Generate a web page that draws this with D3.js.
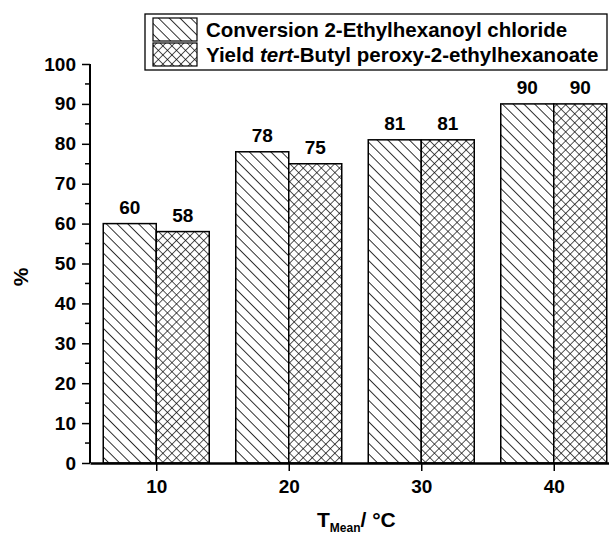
<!DOCTYPE html>
<html>
<head>
<meta charset="utf-8">
<script src="https://cdn.jsdelivr.net/npm/d3@7"></script>
<style>
  body { margin: 0; background: #fff; }
  svg { font-family: "Liberation Sans", Arial, sans-serif; font-weight: bold; }
</style>
</head>
<body>
<div id="chart"></div>
<script>
const temps = [10, 20, 30, 40];
const conversion = [60, 78, 81, 90];
const yieldVals = [58, 75, 81, 90];
const seriesNames = ["Conversion 2-Ethylhexanoyl chloride", "Yield tert-Butyl peroxy-2-ethylhexanoate"];
const yTicks = [0, 10, 20, 30, 40, 50, 60, 70, 80, 90, 100];

let width = 609, height = 536;
const svg = d3.select("#chart").append("svg")
    .attr("width", width).attr("height", height);

const defs = svg.append("defs");
// single diagonal hatch
const p1 = defs.append("pattern").attr("id", "hatch")
    .attr("patternUnits", "userSpaceOnUse")
    .attr("width", 7.6).attr("height", 7.6)
    .attr("patternTransform", "rotate(-45)");
p1.append("rect").attr("width", 7.6).attr("height", 7.6).attr("fill", "#fff");
p1.append("line").attr("x1", 0).attr("y1", 0).attr("x2", 0).attr("y2", 7.6)
    .attr("stroke", "#000").attr("stroke-width", 1.6);
// cross hatch
const p2 = defs.append("pattern").attr("id", "cross")
    .attr("patternUnits", "userSpaceOnUse")
    .attr("width", 6.4).attr("height", 6.4)
    .attr("patternTransform", "rotate(45)");
p2.append("rect").attr("width", 6.4).attr("height", 6.4).attr("fill", "#fff");
p2.append("line").attr("x1", 0).attr("y1", 0).attr("x2", 0).attr("y2", 6.4)
    .attr("stroke", "#000").attr("stroke-width", 1.3);
p2.append("line").attr("x1", 0).attr("y1", 0).attr("x2", 6.4).attr("y2", 0)
    .attr("stroke", "#000").attr("stroke-width", 1.3);

const x = d3.scaleLinear().domain([5, 45]).range([90, 620]);
const y = d3.scaleLinear().domain([0, 100]).range([463, 64]);
const barW = 53;

const data = temps.map((t, i) => ({ t: t, c: conversion[i], yv: yieldVals[i] }));

// bars
const g = svg.append("g");
g.selectAll(".conv").data(data).join("rect")
    .attr("x", d => x(d.t) - barW).attr("y", d => y(d.c))
    .attr("width", barW).attr("height", d => y(0) - y(d.c))
    .attr("fill", "url(#hatch)").attr("stroke", "#000").attr("stroke-width", 1.5);
g.selectAll(".yld").data(data).join("rect")
    .attr("x", d => x(d.t)).attr("y", d => y(d.yv))
    .attr("width", barW).attr("height", d => y(0) - y(d.yv))
    .attr("fill", "url(#cross)").attr("stroke", "#000").attr("stroke-width", 1.5);

// value labels
g.selectAll(".lc").data(data).join("text")
    .attr("x", d => x(d.t) - barW / 2).attr("y", d => y(d.c) - 10)
    .attr("text-anchor", "middle").attr("font-size", 19).text(d => d.c);
g.selectAll(".ly").data(data).join("text")
    .attr("x", d => x(d.t) + barW / 2).attr("y", d => y(d.yv) - 10)
    .attr("text-anchor", "middle").attr("font-size", 19).text(d => d.yv);

// y axis
const yAxis = svg.append("g").attr("transform", "translate(90,0)")
    .call(d3.axisLeft(y).tickValues(yTicks).tickSize(8).tickPadding(6));
yAxis.append("g").selectAll("line").data(d3.range(5, 100, 10)).join("line")
    .attr("x1", -5).attr("x2", 0).attr("y1", d => y(d)).attr("y2", d => y(d))
    .attr("stroke", "#000").attr("stroke-width", 1.5);
yAxis.select(".domain").attr("d", `M0,${y(0)}V${y(100)}`).attr("stroke-width", 2);
yAxis.selectAll(".tick line").attr("stroke-width", 1.5);
yAxis.selectAll("text").attr("font-size", 19).attr("font-weight", "bold")
    .attr("font-family", "Liberation Sans, Arial, sans-serif").attr("fill", "#000");

// x axis
const xAxis = svg.append("g").attr("transform", `translate(0,${y(0)})`)
    .call(d3.axisBottom(x).tickValues(temps).tickSize(8).tickPadding(9).tickSizeOuter(0));
xAxis.select(".domain").attr("stroke-width", 2.5);
xAxis.selectAll(".tick line").attr("stroke-width", 1.5);
xAxis.selectAll("text").attr("font-size", 19).attr("font-weight", "bold")
    .attr("font-family", "Liberation Sans, Arial, sans-serif").attr("fill", "#000");

// axis titles
const xt = svg.append("text").attr("x", 317).attr("y", 527).attr("font-size", 21);
xt.append("tspan").text("T");
xt.append("tspan").attr("font-size", 12).attr("dy", 5).text("Mean");
xt.append("tspan").attr("dy", -5).text("/ °C");

svg.append("text").attr("transform", "translate(28,277) rotate(-90)")
    .attr("text-anchor", "middle").attr("font-size", 21).text("%");

// legend
const legend = svg.append("g");
legend.append("rect").attr("x", 145).attr("y", 14).attr("width", 462).attr("height", 56)
    .attr("fill", "#fff").attr("stroke", "#000").attr("stroke-width", 1.3);
const fills = ["url(#hatch)", "url(#cross)"];
legend.selectAll(".sw").data(seriesNames).join("rect")
    .attr("x", 153).attr("y", (d, i) => 18 + i * 25)
    .attr("width", 44).attr("height", 23)
    .attr("fill", (d, i) => fills[i]).attr("stroke", "#000").attr("stroke-width", 1.2);
legend.append("text").attr("x", 206).attr("y", 37).attr("font-size", 20.5)
    .text(seriesNames[0]);
const lt2 = legend.append("text").attr("x", 206).attr("y", 62).attr("font-size", 20.5);
lt2.append("tspan").text("Yield ");
lt2.append("tspan").attr("font-style", "italic").text("tert");
lt2.append("tspan").text("-Butyl peroxy-2-ethylhexanoate");
</script>
</body>
</html>
